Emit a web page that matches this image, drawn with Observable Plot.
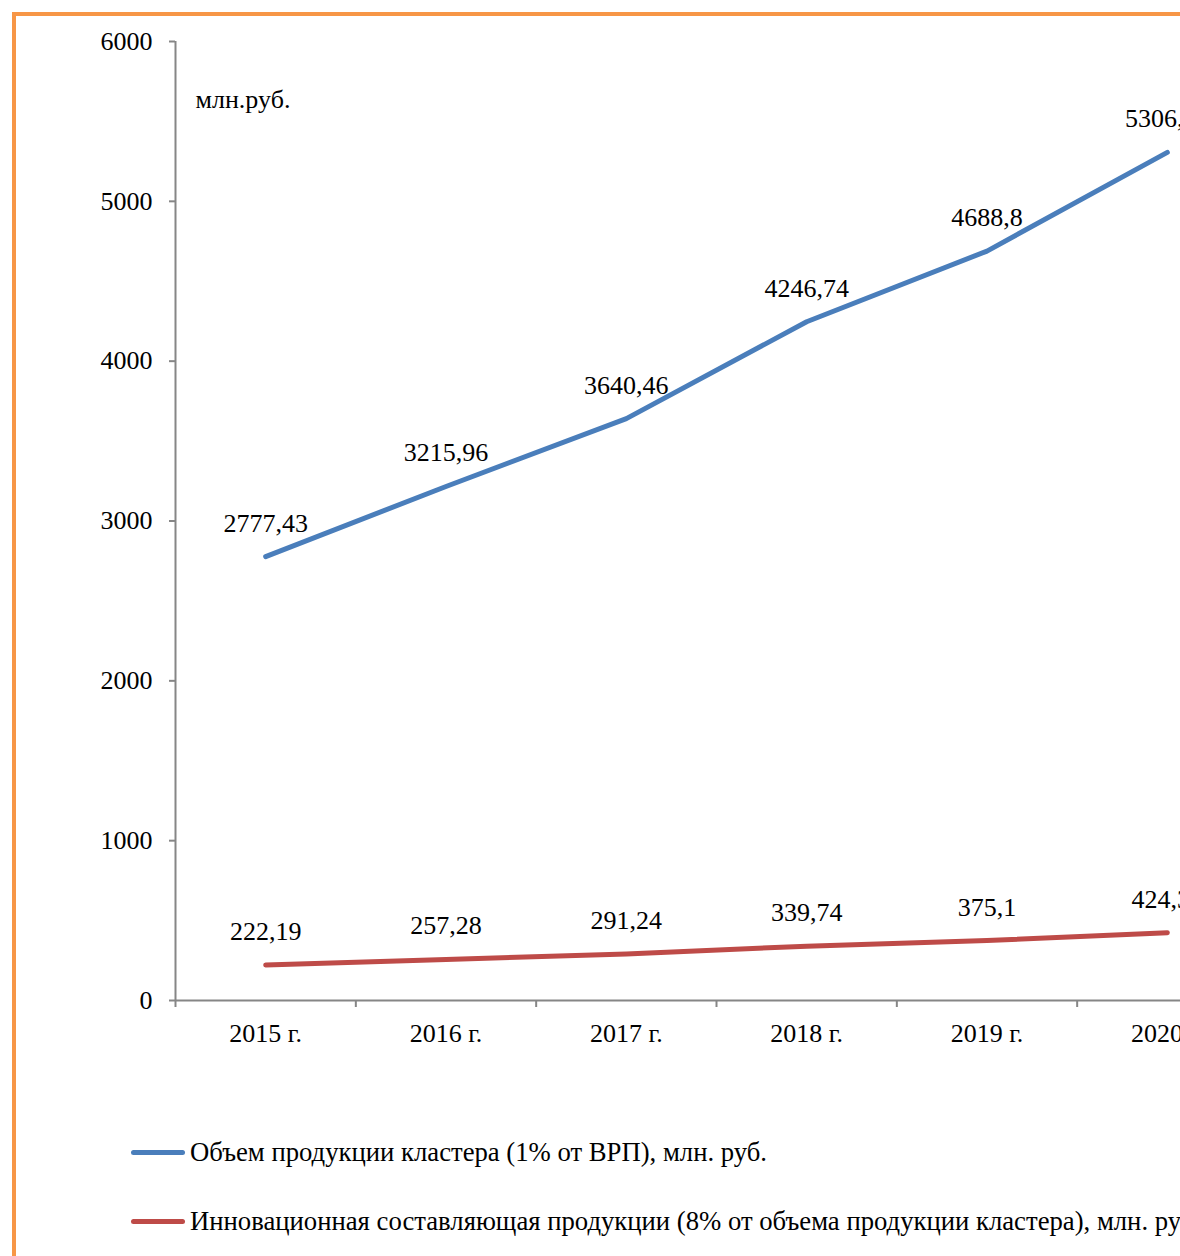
<!DOCTYPE html>
<html>
<head>
<meta charset="utf-8">
<script src="https://cdn.jsdelivr.net/npm/d3@7"></script>
<script src="https://cdn.jsdelivr.net/npm/@observablehq/plot@0.6"></script>
<style>
  html, body { margin: 0; padding: 0; width: 1180px; height: 1256px; overflow: hidden; background: #fff; }
  #frame { position: absolute; left: 12px; top: 12px; width: 1400px; height: 1400px; border: 4px solid #f79646; box-sizing: border-box; }
  #chart { position: absolute; left: 0; top: 0; width: 1320px; }
  #chart svg { max-width: none !important; }
  .legend { position: absolute; left: 131px; font-family: "Liberation Serif", "Times New Roman", serif; font-size: 26.7px; white-space: nowrap; display: flex; align-items: center; color: #000; }
  .legend .sw { width: 54px; height: 5px; border-radius: 3px; margin-right: 5px; }
</style>
</head>
<body>
<div id="frame"></div>
<div id="chart"></div>
<div class="legend" id="leg1" style="top:1137px"><span class="sw" style="background:#4a7ebb"></span><span id="t1"></span></div>
<div class="legend" id="leg2" style="top:1206px"><span class="sw" style="background:#be4b48"></span><span id="t2"></span></div>
<script>
const years = ["2015 г.", "2016 г.", "2017 г.", "2018 г.", "2019 г.", "2020 г."];
const volume = [2777.43, 3215.96, 3640.46, 4246.74, 4688.8, 5306.02];
const innovation = [222.19, 257.28, 291.24, 339.74, 375.1, 424.38];
const seriesNames = [
  "Объем продукции кластера (1% от ВРП), млн. руб.",
  "Инновационная составляющая продукции (8% от объема продукции кластера), млн. руб."
];
const unitLabel = "млн.руб.";
const yTicks = [0, 1000, 2000, 3000, 4000, 5000, 6000];

const colors = ["#4a7ebb", "#be4b48"];
const fmt = v => String(v).replace(".", ",");

const rows = [];
years.forEach((y, i) => {
  rows.push({i, year: y, value: volume[i], s: 0});
  rows.push({i, year: y, value: innovation[i], s: 1});
});

const font = `"Liberation Serif", "Times New Roman", serif`;
const axisColor = "#868686";
const fs = 26;

const plot = Plot.plot({
  width: 1320,
  height: 1060,
  marginLeft: 175,
  marginRight: 63,
  marginTop: 41,
  marginBottom: 60,
  style: {fontFamily: font, fontSize: fs + "px", color: "#000", background: "transparent", maxWidth: "none"},
  x: {domain: [0, years.length], axis: null},
  y: {domain: [0, 6000], axis: null},
  marks: [
    Plot.ruleX([0], {y1: 0, y2: 6000, stroke: axisColor, strokeWidth: 2}),
    Plot.ruleY([0], {x1: 0, x2: years.length, stroke: axisColor, strokeWidth: 2}),
    Plot.axisY({ticks: yTicks, tickSize: 6, tickPadding: 17, stroke: axisColor, strokeWidth: 2, fill: "#000", tickFormat: d => String(d), label: null, fontSize: fs}),
    Plot.axisX({ticks: d3.range(0, years.length + 1), tickSize: 7, tickFormat: () => "", stroke: axisColor, strokeWidth: 2, label: null}),
    Plot.axisX({ticks: years.map((_, i) => i + 0.5), tickSize: 0, tickPadding: 23, tickFormat: d => years[Math.floor(d)], label: null, fontSize: fs, fill: "#000"}),
    Plot.line(rows, {x: d => d.i + 0.5, y: "value", z: "s", stroke: d => colors[d.s], strokeWidth: 5, strokeLinecap: "round", strokeLinejoin: "round"}),
    Plot.text(rows, {x: d => d.i + 0.5, y: "value", text: d => fmt(d.value), dy: -25, lineAnchor: "bottom", fill: "#000", fontSize: fs}),
    Plot.text([unitLabel], {frameAnchor: "top-left", dx: 20, dy: 58, textAnchor: "start", lineAnchor: "middle", fill: "#000", fontSize: fs})
  ]
});
document.getElementById("chart").appendChild(plot);
document.getElementById("t1").textContent = seriesNames[0];
document.getElementById("t2").textContent = seriesNames[1];
</script>
</body>
</html>
